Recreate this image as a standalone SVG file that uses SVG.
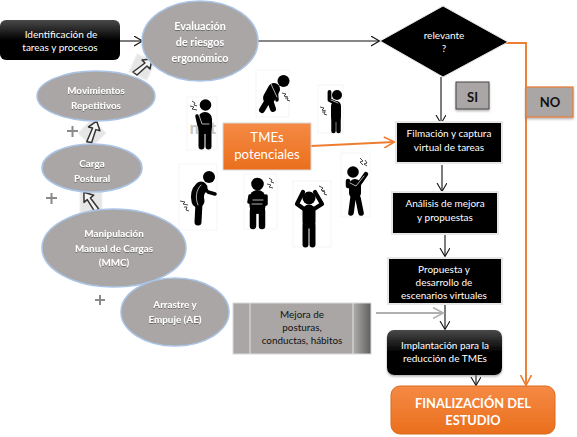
<svg xmlns="http://www.w3.org/2000/svg" width="577" height="437" viewBox="0 0 577 437">
<style>
text{font-family:Lato,"Open Sans","Liberation Sans",Arial,sans-serif;text-anchor:middle}
.w{fill:#fff;font-size:10px}
.ws{fill:#fff;font-size:9.900px;font-weight:700;filter:url(#ts)}
.wb{fill:#fff;font-size:10.800px;font-weight:700;filter:url(#ts)}
.k{fill:#111;font-size:9.900px}
.ell{fill:#aaa6a5;stroke:#a9c4e6;stroke-width:1.500}
.blk{fill:#000;stroke:#e6e6e6;stroke-width:2}
.con{fill:none;stroke:#111;stroke-width:1.100}
.org{fill:none;stroke:#ed7d31;stroke-width:1.900}
.gr{fill:none;stroke:#b0b0b0;stroke-width:1.800}
.pic{fill:#fff;stroke:#f0f0f0;stroke-width:.7}
.pl{fill:none;stroke:#000;stroke-linecap:round;stroke-linejoin:round}
.wl{fill:none;stroke:#ddd;stroke-width:.8;stroke-linecap:round}
.bolt{fill:none;stroke:#333;stroke-width:.9}
.plus{fill:none;stroke:#8a8a8a;stroke-width:2}
.tile{fill:#e6e6e6;stroke:#f2f2f2}
.ar{fill:#f4f4f4;stroke:#333;stroke-width:1.500;stroke-linejoin:round}
</style>
<defs>
<linearGradient id="bg" x1="0" y1="0" x2="0" y2="1"><stop offset="0" stop-color="#4a4a4a"/><stop offset=".5" stop-color="#000"/><stop offset="1" stop-color="#000"/></linearGradient>
<linearGradient id="og" x1="0" y1="0" x2="0" y2="1"><stop offset="0" stop-color="#f58a45"/><stop offset="1" stop-color="#ea6f1c"/></linearGradient>
<linearGradient id="gg" x1="0" y1="0" x2="1" y2="0"><stop offset="0" stop-color="#aaa6a5"/><stop offset=".88" stop-color="#aaa6a5"/><stop offset="1" stop-color="#5f5f5f"/></linearGradient>
<filter id="ts" x="-20%" y="-30%" width="140%" height="160%"><feDropShadow dx="0" dy="1" stdDeviation=".5" flood-color="#555" flood-opacity=".7"/></filter>
<filter id="sh" x="-10%" y="-10%" width="120%" height="125%"><feDropShadow dx="0" dy="1.500" stdDeviation="1.200" flood-color="#777" flood-opacity=".6"/></filter>
<marker id="ma" markerWidth="10" markerHeight="12" refX="8.500" refY="5" orient="auto" markerUnits="userSpaceOnUse"><path d="M0.500 0L9 5L0.500 10" fill="none" stroke="#111" stroke-width="1.100"/></marker>
<marker id="mo" markerWidth="12" markerHeight="12" refX="10.500" refY="6" orient="auto" markerUnits="userSpaceOnUse"><path d="M0.500 0.500L11 6L0.500 11.500" fill="none" stroke="#ed7d31" stroke-width="1.600"/></marker>
<marker id="mg" markerWidth="12" markerHeight="12" refX="10.500" refY="6" orient="auto" markerUnits="userSpaceOnUse"><path d="M0.500 0.500L11 6L0.500 11.500" fill="none" stroke="#b0b0b0" stroke-width="1.600"/></marker>
<g id="arrowIcon"><path class="ar" d="M-9 5L3-4L0-7L10-8L8 2L5-1L-5 8Z"/></g>
</defs>

<g id="figures">
<g id="fig-1"><rect class="pic" x="187" y="97" width="30" height="53"/>
<text x="203" y="134" font-size="16" font-weight="900" style="fill:#c6c6c6">nist</text>
<circle cx="205.500" cy="105" r="5.800"/><path class="pl" stroke-width="14" d="M205 119V127"/><path class="pl" stroke-width="6" d="M201.500 130V146.500M208.500 130V146.500"/><path class="pl" stroke-width="3.500" d="M197 116L199 125L208 127"/><path class="wl" d="M199 115L202 124L209 124"/><path class="bolt" d="M190 106l4 1-2 2 5 1M192 101l3 2-1 2 3 1"/></g>
<g id="fig-2"><rect class="pic" x="256" y="70" width="33" height="47"/>
<circle cx="283.500" cy="81" r="6"/><path class="pl" stroke-width="12" d="M274 89L269 98"/><path class="pl" stroke-width="6" d="M268 100L262 110M270 100L273 109"/><path class="pl" stroke-width="3.500" d="M276 88L277 100"/><path class="wl" d="M271 84L277 97"/><path class="bolt" d="M282 93l4 1-2 2 4 1M285 98l3 0-1 2 3 1"/></g>
<g id="fig-3"><rect class="pic" x="318" y="85" width="25" height="48"/>
<circle cx="337" cy="95" r="5"/><path class="pl" stroke-width="10" d="M336 106V117"/><path class="pl" stroke-width="4.500" d="M333.500 119V131M338.500 119V131"/><path class="pl" stroke-width="3.800" d="M329.500 92L329.500 100L338 104"/><path class="wl" d="M331 100L338 103"/><path class="bolt" d="M320 107l4 1-2 2 4 1M322 112l3 0-1 2 3 1"/></g>
<g id="fig-4"><rect class="pic" x="179" y="164" width="38" height="66"/>
<circle cx="209" cy="177" r="6"/><path class="pl" stroke-width="13" d="M201 188C197 192 197 197 198 201"/><path class="pl" stroke-width="7" d="M199 203L198 222"/><path class="pl" stroke-width="3.500" d="M203 186L208 192L215 194"/><path class="wl" d="M201 185C196 190 195 198 198 205"/><path class="bolt" d="M180 201l5 1-2 2 5 1M184 207l3 0-1 3 3 1"/></g>
<g id="fig-5"><rect class="pic" x="244" y="174" width="33" height="55"/>
<circle cx="257.500" cy="184" r="6.300"/><path class="pl" stroke-width="16" d="M257.500 198V206"/><path class="pl" stroke-width="6.500" d="M253 211V226M262 211V226"/><path class="pl" stroke-width="3.500" d="M250 196L249 202L264 203M266 196V204L252 206"/><path class="wl" d="M253 200L263 200M252 204L262 204"/><path class="bolt" d="M267 184l4 1-2 2 4 1M269 178l3 2-1 2 3 1"/></g>
<g id="fig-6"><rect class="pic" x="293" y="181" width="38" height="66"/>
<circle cx="309" cy="198" r="6.500"/><path class="pl" stroke-width="13" d="M309 211V222"/><path class="pl" stroke-width="6" d="M305.500 225V244.500M312.500 225V244.500"/><path class="pl" stroke-width="4.200" d="M303 192L297 204L304 209M315 192L322 204L314 209"/><path class="bolt" d="M319 186l4 2-2 2 4 1M322 191l3 1-1 2 3 1"/></g>
<g id="fig-7"><rect class="pic" x="341" y="153" width="29" height="64"/>
<circle cx="353" cy="172" r="5.800"/><path class="pl" stroke-width="12" d="M355 185V193"/><path class="pl" stroke-width="5.600" d="M353 198L351 213M358 198L361 213"/><path class="pl" stroke-width="4.500" d="M348 181L348 186L357 187L366 174"/><path class="wl" d="M350 183L356 186L364 176"/><path class="bolt" d="M360 158l3 3-3 1 3 3M365 160l2 3-3 1 3 2"/></g>
</g>

<g id="connectors">
<path class="con" marker-end="url(#ma)" d="M120 41H142"/>
<path class="con" marker-end="url(#ma)" d="M258 41H379"/>
<path class="con" marker-end="url(#ma)" d="M441 77V123"/>
<path class="con" marker-end="url(#ma)" d="M442 165V191"/>
<path class="con" marker-end="url(#ma)" d="M445 235V256"/>
<path class="con" marker-end="url(#ma)" d="M445 305V329"/>
<path class="con" marker-end="url(#ma)" d="M476 375V385"/>
<path class="org" marker-end="url(#mo)" d="M505 43H526V385"/>
<path class="org" marker-end="url(#mo)" d="M311 146L394 142"/>
<path class="gr" marker-end="url(#mg)" d="M376 313H443"/>
</g>

<g id="icons">
<g transform="translate(142,67)"><rect class="tile" x="-10" y="-10" width="20" height="20" transform="rotate(25)"/><use href="#arrowIcon"/></g>
<g transform="translate(92,133)"><rect class="tile" x="-10" y="-10" width="20" height="20" transform="rotate(45)"/><use href="#arrowIcon" transform="rotate(-30)"/></g>
<g transform="translate(91,203)"><rect class="tile" x="-11" y="-11" width="22" height="22"/><use href="#arrowIcon" transform="rotate(-85)"/></g>
<path class="plus" d="M67 131H78M72.500 126V137"/>
<path class="plus" d="M46 198H57M51.500 193V204"/>
<path class="plus" d="M95 300H105M100 295V305"/>
</g>

<g id="n-identificacion"><rect x="0" y="20" width="120" height="40" rx="6" fill="url(#bg)"/><text class="w" x="61" y="38">Identificación de</text><text class="w" x="60" y="51">tareas y procesos</text></g>
<g id="n-evaluacion"><ellipse class="ell" cx="200" cy="41" rx="58" ry="40"/><text class="wb" x="200" y="30">Evaluación</text><text class="wb" x="200" y="46">de riesgos</text><text class="wb" x="200" y="62">ergonómico</text></g>
<g id="n-relevante"><path d="M380 41L443 6L508 42L443 77Z" fill="#000" stroke="#e6e6e6"/><text class="w" x="444" y="39">relevante</text><text class="w" x="444" y="52">?</text></g>
<g id="n-movimientos"><ellipse class="ell" cx="96" cy="96" rx="59" ry="25"/><text class="ws" x="96" y="94">Movimientos</text><text class="ws" x="96" y="109">Repetitivos</text></g>
<g id="n-carga"><ellipse class="ell" cx="92" cy="168" rx="50" ry="24"/><text class="ws" x="92" y="167">Carga</text><text class="ws" x="92" y="182">Postural</text></g>
<g id="n-mmc"><ellipse class="ell" cx="114" cy="248" rx="72" ry="39"/><text class="ws" x="114" y="237">Manipulación</text><text class="ws" x="114" y="252">Manual de Cargas</text><text class="ws" x="114" y="266">(MMC)</text></g>
<g id="n-arrastre"><ellipse class="ell" cx="175" cy="312" rx="54" ry="34"/><text class="ws" x="175" y="308">Arrastre y</text><text class="ws" x="175" y="323">Empuje (AE)</text></g>
<g id="n-tmes"><rect x="223" y="123" width="88" height="47" fill="url(#og)" stroke="#d9d9d9"/><text x="267" y="142" fill="#fff" font-size="13.200">TMEs</text><text x="267" y="159" fill="#fff" font-size="13.200">potenciales</text></g>
<g id="n-si"><rect x="456" y="82" width="33" height="27" fill="#aaa6a5" stroke="#444" stroke-width="1" filter="url(#sh)"/><text x="472.500" y="102" fill="#111" font-size="13" font-weight="700">SI</text></g>
<g id="n-no"><rect x="526" y="87" width="47" height="30" fill="#aaa6a5" stroke="#ed7d31" stroke-width="1.200" filter="url(#sh)"/><text x="550" y="107" fill="#111" font-size="13" font-weight="700">NO</text></g>
<g id="n-filmacion"><rect class="blk" x="396" y="122" width="106" height="41"/><text class="w" x="449" y="137">Filmación y captura</text><text class="w" x="449" y="151">virtual de tareas</text></g>
<g id="n-analisis"><rect class="blk" x="392" y="192" width="106" height="42"/><text class="w" x="445" y="207">Análisis de mejora</text><text class="w" x="445" y="221">y propuestas</text></g>
<g id="n-propuesta"><rect class="blk" x="388" y="258" width="114" height="46"/><text class="w" x="444" y="273">Propuesta y</text><text class="w" x="444" y="286">desarrollo de</text><text class="w" x="444" y="299">escenarios virtuales</text></g>
<g id="n-mejora"><rect x="233" y="303" width="138" height="51" fill="url(#gg)" stroke="#d9d9d9"/><path d="M250 303V354M353 303V354" stroke="#e4e4e4" stroke-width="1"/><text class="k" x="302" y="318">Mejora de</text><text class="k" x="302" y="331">posturas,</text><text class="k" x="302" y="344">conductas, hábitos</text></g>
<g id="n-implantacion"><rect x="387" y="330" width="115" height="45" rx="7" fill="url(#bg)" filter="url(#sh)"/><text class="w" x="445" y="349">Implantación para la</text><text class="w" x="445" y="362">reducción de TMEs</text></g>
<g id="n-final"><rect x="391" y="386" width="164" height="48" rx="9" fill="url(#og)" stroke="#d96a1e"/><text x="473" y="408" fill="#fff" font-size="12.800" font-weight="700">FINALIZACIÓN DEL</text><text x="473" y="425" fill="#fff" font-size="12.800" font-weight="700">ESTUDIO</text></g>
</svg>
